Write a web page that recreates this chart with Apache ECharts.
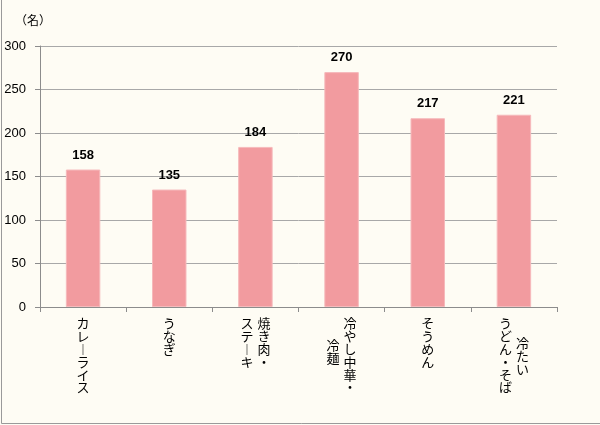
<!DOCTYPE html>
<html><head><meta charset="utf-8">
<script src="https://cdn.jsdelivr.net/npm/echarts@6/dist/echarts.min.js"></script>
<style>html,body{margin:0;padding:0;background:#FEFCF4}#c{width:600px;height:425px}</style>
</head><body><div id="c"></div>
<script>
// categories (full names) and their vertical label columns
const categories = ['カレーライス', 'うなぎ', '焼き肉・ステーキ', '冷やし中華・冷麺', 'そうめん', '冷たいうどん・そば'];
const rightColumn = ['カレーライス', 'うなぎ', '焼き肉・', '冷やし中華・', 'そうめん', '冷たい'];
const leftColumn = ['', '', 'ステーキ', '冷麺', '', 'うどん・そば'];
const values = [158, 135, 184, 270, 217, 221];
const unitLabel = '（名）';

// layout of the vertical label columns (px offsets from top)
const rightTop = [0, 0, 0, 0, 0, 20];
const leftTop = [0, 0, 0, 22, 0, 0];

const txt = {fontSize: 13, lineHeight: 12.8, fontFamily: 'Noto Sans CJK JP', color: '#000'};
const rich = {
  c: Object.assign({}, txt),
  r: Object.assign({}, txt, {padding: [0, 0, 0, 17]}),
  l: Object.assign({}, txt, {padding: [0, 17, 0, 0]})
};
function spacer(h) {
  const k = 'sp' + h;
  rich[k] = {fontSize: 1, lineHeight: h};
  return '{' + k + '| }\n';
}
function vert(text, style, top) {
  if (!text) return '';
  const chars = Array.from(text.replace(/ー/g, '︱'));
  return (top ? spacer(top) : '') + chars.map(ch => '{' + style + '|' + ch + '}').join('\n');
}
const rightLabels = rightColumn.map((t, i) => vert(t, leftColumn[i] ? 'r' : 'c', rightTop[i]));
const leftLabels = leftColumn.map((t, i) => vert(t, 'l', leftTop[i]));

const chart = echarts.init(document.getElementById('c'));
chart.setOption({
  backgroundColor: '#FEFCF4',
  animation: false,
  grid: {left: 40, right: 43, top: 46, bottom: 118},
  graphic: [
    {type: 'rect', shape: {x: 1.5, y: -5, width: 605, height: 428.5}, style: {fill: 'none', stroke: '#9A9A9A', lineWidth: 1}, silent: true},
    {type: 'text', left: 15, top: 14, style: {text: unitLabel, font: '12px "Noto Sans CJK JP"', fill: '#000'}}
  ],
  xAxis: [{
    type: 'category', data: categories, position: 'bottom',
    axisLine: {lineStyle: {color: '#8C8C8C'}},
    axisTick: {show: true, length: 5, lineStyle: {color: '#8C8C8C'}},
    axisLabel: {interval: 0, margin: 10, formatter: (v, i) => rightLabels[i], rich: rich}
  }, {
    type: 'category', data: categories, position: 'bottom',
    axisLine: {show: false}, axisTick: {show: false}, splitLine: {show: false},
    axisLabel: {interval: 0, margin: 10, formatter: (v, i) => leftLabels[i], rich: rich}
  }],
  yAxis: {
    type: 'value', min: 0, max: 300, interval: 50,
    axisLine: {show: true, lineStyle: {color: '#8C8C8C'}},
    axisTick: {show: true, length: 5, lineStyle: {color: '#8C8C8C'}},
    axisLabel: {margin: 14, fontSize: 13, fontFamily: 'Liberation Sans', color: '#000'},
    splitLine: {lineStyle: {color: '#A8A8A8'}}
  },
  series: [{
    type: 'bar', xAxisIndex: 0, data: values, barWidth: '40%',
    itemStyle: {color: '#F29B9F', borderColor: '#F6B9BB', borderWidth: 1},
    label: {show: true, position: 'top', distance: 8, fontSize: 13, fontWeight: 'bold', fontFamily: 'Liberation Sans', color: '#000'}
  }]
});
</script></body></html>
